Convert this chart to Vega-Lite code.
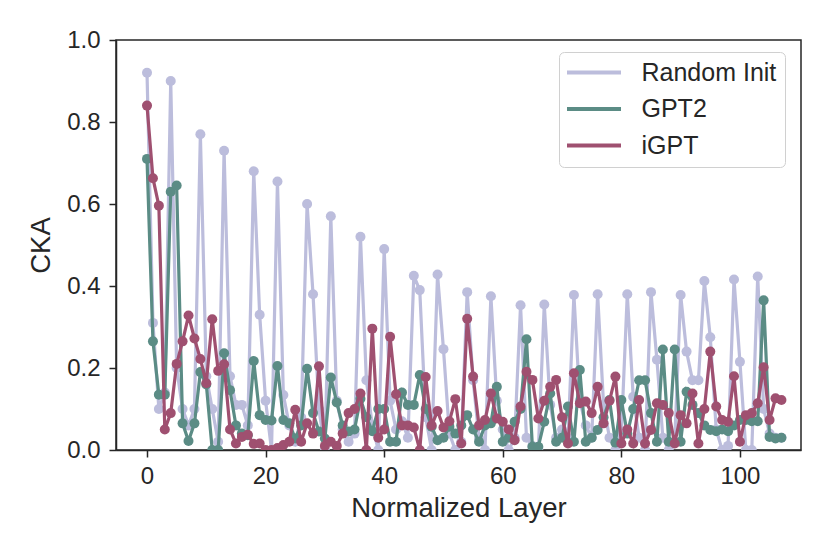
{
  "$schema": "https://vega.github.io/schema/vega-lite/v6.json",
  "width": 685,
  "height": 410,
  "autosize": "none",
  "padding": {"left": 116, "top": 40, "right": 29, "bottom": 104},
  "background": "white",
  "config": {
    "font": "Liberation Sans",
    "view": {"stroke": "#262626", "strokeWidth": 1.5},
    "axis": {
      "grid": false,
      "domainColor": "#262626", "domainWidth": 1.5,
      "tickColor": "#262626", "tickWidth": 1.5, "tickSize": 7,
      "labelFontSize": 24, "labelColor": "#262626",
      "titleFontSize": 27.5, "titleColor": "#262626", "titleFontWeight": "normal"
    }
  },
  "data": {
    "values": [
      {"layer": 0, "Random Init": 0.92, "GPT2": 0.71, "iGPT": 0.84},
      {"layer": 1, "Random Init": 0.31, "GPT2": 0.265, "iGPT": 0.663},
      {"layer": 2, "Random Init": 0.10, "GPT2": 0.135, "iGPT": 0.596},
      {"layer": 3, "Random Init": 0.14, "GPT2": 0.135, "iGPT": 0.05},
      {"layer": 4, "Random Init": 0.90, "GPT2": 0.63, "iGPT": 0.09},
      {"layer": 5, "Random Init": 0.20, "GPT2": 0.645, "iGPT": 0.21},
      {"layer": 6, "Random Init": 0.10, "GPT2": 0.065, "iGPT": 0.265},
      {"layer": 7, "Random Init": 0.06, "GPT2": 0.022, "iGPT": 0.328},
      {"layer": 8, "Random Init": 0.10, "GPT2": 0.065, "iGPT": 0.272},
      {"layer": 9, "Random Init": 0.77, "GPT2": 0.19, "iGPT": 0.222},
      {"layer": 10, "Random Init": 0.18, "GPT2": 0.16, "iGPT": 0.163},
      {"layer": 11, "Random Init": 0.10, "GPT2": 0.0, "iGPT": 0.319},
      {"layer": 12, "Random Init": 0.02, "GPT2": 0.0, "iGPT": 0.193},
      {"layer": 13, "Random Init": 0.73, "GPT2": 0.236, "iGPT": 0.209},
      {"layer": 14, "Random Init": 0.18, "GPT2": 0.146, "iGPT": 0.05},
      {"layer": 15, "Random Init": 0.11, "GPT2": 0.06, "iGPT": 0.016},
      {"layer": 16, "Random Init": 0.11, "GPT2": 0.04, "iGPT": 0.032},
      {"layer": 17, "Random Init": 0.06, "GPT2": 0.036, "iGPT": 0.037},
      {"layer": 18, "Random Init": 0.68, "GPT2": 0.217, "iGPT": 0.015},
      {"layer": 19, "Random Init": 0.33, "GPT2": 0.085, "iGPT": 0.016},
      {"layer": 20, "Random Init": 0.12, "GPT2": 0.073, "iGPT": 0.0},
      {"layer": 21, "Random Init": 0.0, "GPT2": 0.072, "iGPT": 0.0},
      {"layer": 22, "Random Init": 0.655, "GPT2": 0.205, "iGPT": 0.005},
      {"layer": 23, "Random Init": 0.134, "GPT2": 0.073, "iGPT": 0.012},
      {"layer": 24, "Random Init": 0.06, "GPT2": 0.065, "iGPT": 0.02},
      {"layer": 25, "Random Init": 0.02, "GPT2": 0.028, "iGPT": 0.098},
      {"layer": 26, "Random Init": 0.08, "GPT2": 0.06, "iGPT": 0.02},
      {"layer": 27, "Random Init": 0.60, "GPT2": 0.198, "iGPT": 0.065},
      {"layer": 28, "Random Init": 0.38, "GPT2": 0.09, "iGPT": 0.04},
      {"layer": 29, "Random Init": 0.10, "GPT2": 0.045, "iGPT": 0.204},
      {"layer": 30, "Random Init": 0.0, "GPT2": 0.028, "iGPT": 0.01},
      {"layer": 31, "Random Init": 0.57, "GPT2": 0.177, "iGPT": 0.02},
      {"layer": 32, "Random Init": 0.12, "GPT2": 0.116, "iGPT": 0.01},
      {"layer": 33, "Random Init": 0.05, "GPT2": 0.06, "iGPT": 0.04},
      {"layer": 34, "Random Init": 0.02, "GPT2": 0.045, "iGPT": 0.09},
      {"layer": 35, "Random Init": 0.04, "GPT2": 0.05, "iGPT": 0.1},
      {"layer": 36, "Random Init": 0.52, "GPT2": 0.125, "iGPT": 0.138},
      {"layer": 37, "Random Init": 0.17, "GPT2": 0.08, "iGPT": 0.0},
      {"layer": 38, "Random Init": 0.06, "GPT2": 0.046, "iGPT": 0.296},
      {"layer": 39, "Random Init": 0.0, "GPT2": 0.1, "iGPT": 0.03},
      {"layer": 40, "Random Init": 0.49, "GPT2": 0.1, "iGPT": 0.05},
      {"layer": 41, "Random Init": 0.12, "GPT2": 0.02, "iGPT": 0.276},
      {"layer": 42, "Random Init": 0.05, "GPT2": 0.02, "iGPT": 0.136},
      {"layer": 43, "Random Init": 0.07, "GPT2": 0.14, "iGPT": 0.06},
      {"layer": 44, "Random Init": 0.03, "GPT2": 0.11, "iGPT": 0.06},
      {"layer": 45, "Random Init": 0.425, "GPT2": 0.11, "iGPT": 0.055},
      {"layer": 46, "Random Init": 0.39, "GPT2": 0.183, "iGPT": 0.0},
      {"layer": 47, "Random Init": 0.08, "GPT2": 0.1, "iGPT": 0.178},
      {"layer": 48, "Random Init": 0.0, "GPT2": 0.057, "iGPT": 0.06},
      {"layer": 49, "Random Init": 0.428, "GPT2": 0.024, "iGPT": 0.095},
      {"layer": 50, "Random Init": 0.246, "GPT2": 0.03, "iGPT": 0.055},
      {"layer": 51, "Random Init": 0.04, "GPT2": 0.057, "iGPT": 0.07},
      {"layer": 52, "Random Init": 0.0, "GPT2": 0.04, "iGPT": 0.124},
      {"layer": 53, "Random Init": 0.02, "GPT2": 0.06, "iGPT": 0.016},
      {"layer": 54, "Random Init": 0.385, "GPT2": 0.085, "iGPT": 0.32},
      {"layer": 55, "Random Init": 0.17, "GPT2": 0.05, "iGPT": 0.179},
      {"layer": 56, "Random Init": 0.03, "GPT2": 0.02, "iGPT": 0.06},
      {"layer": 57, "Random Init": 0.0, "GPT2": 0.06, "iGPT": 0.073},
      {"layer": 58, "Random Init": 0.375, "GPT2": 0.065, "iGPT": 0.138},
      {"layer": 59, "Random Init": 0.12, "GPT2": 0.154, "iGPT": 0.077},
      {"layer": 60, "Random Init": 0.05, "GPT2": 0.02, "iGPT": 0.069},
      {"layer": 61, "Random Init": 0.0, "GPT2": 0.03, "iGPT": 0.05},
      {"layer": 62, "Random Init": 0.03, "GPT2": 0.069, "iGPT": 0.024},
      {"layer": 63, "Random Init": 0.353, "GPT2": 0.1, "iGPT": 0.106},
      {"layer": 64, "Random Init": 0.03, "GPT2": 0.27, "iGPT": 0.191},
      {"layer": 65, "Random Init": 0.01, "GPT2": 0.008, "iGPT": 0.171},
      {"layer": 66, "Random Init": 0.0, "GPT2": 0.008, "iGPT": 0.077},
      {"layer": 67, "Random Init": 0.355, "GPT2": 0.069, "iGPT": 0.12},
      {"layer": 68, "Random Init": 0.11, "GPT2": 0.138, "iGPT": 0.154},
      {"layer": 69, "Random Init": 0.03, "GPT2": 0.02, "iGPT": 0.171},
      {"layer": 70, "Random Init": 0.05, "GPT2": 0.03, "iGPT": 0.08},
      {"layer": 71, "Random Init": 0.03, "GPT2": 0.106, "iGPT": 0.016},
      {"layer": 72, "Random Init": 0.378, "GPT2": 0.02, "iGPT": 0.187},
      {"layer": 73, "Random Init": 0.12, "GPT2": 0.195, "iGPT": 0.114},
      {"layer": 74, "Random Init": 0.06, "GPT2": 0.02, "iGPT": 0.118},
      {"layer": 75, "Random Init": 0.03, "GPT2": 0.03, "iGPT": 0.09},
      {"layer": 76, "Random Init": 0.38, "GPT2": 0.049, "iGPT": 0.154},
      {"layer": 77, "Random Init": 0.11, "GPT2": 0.08, "iGPT": 0.065},
      {"layer": 78, "Random Init": 0.03, "GPT2": 0.122, "iGPT": 0.12},
      {"layer": 79, "Random Init": 0.0, "GPT2": 0.018, "iGPT": 0.179},
      {"layer": 80, "Random Init": 0.04, "GPT2": 0.122, "iGPT": 0.016},
      {"layer": 81, "Random Init": 0.38, "GPT2": 0.04, "iGPT": 0.05},
      {"layer": 82, "Random Init": 0.13, "GPT2": 0.1, "iGPT": 0.016},
      {"layer": 83, "Random Init": 0.03, "GPT2": 0.17, "iGPT": 0.122},
      {"layer": 84, "Random Init": 0.0, "GPT2": 0.17, "iGPT": 0.016},
      {"layer": 85, "Random Init": 0.385, "GPT2": 0.09, "iGPT": 0.049},
      {"layer": 86, "Random Init": 0.22, "GPT2": 0.02, "iGPT": 0.114},
      {"layer": 87, "Random Init": 0.03, "GPT2": 0.245, "iGPT": 0.11},
      {"layer": 88, "Random Init": 0.0, "GPT2": 0.02, "iGPT": 0.09},
      {"layer": 89, "Random Init": 0.02, "GPT2": 0.245, "iGPT": 0.016},
      {"layer": 90, "Random Init": 0.378, "GPT2": 0.02, "iGPT": 0.085},
      {"layer": 91, "Random Init": 0.24, "GPT2": 0.142, "iGPT": 0.065},
      {"layer": 92, "Random Init": 0.17, "GPT2": 0.11, "iGPT": 0.138},
      {"layer": 93, "Random Init": 0.17, "GPT2": 0.09, "iGPT": 0.016},
      {"layer": 94, "Random Init": 0.412, "GPT2": 0.06, "iGPT": 0.1},
      {"layer": 95, "Random Init": 0.275, "GPT2": 0.049, "iGPT": 0.24},
      {"layer": 96, "Random Init": 0.05, "GPT2": 0.046, "iGPT": 0.106},
      {"layer": 97, "Random Init": 0.0, "GPT2": 0.05, "iGPT": 0.073},
      {"layer": 98, "Random Init": 0.01, "GPT2": 0.046, "iGPT": 0.069},
      {"layer": 99, "Random Init": 0.416, "GPT2": 0.06, "iGPT": 0.18},
      {"layer": 100, "Random Init": 0.215, "GPT2": 0.073, "iGPT": 0.02},
      {"layer": 101, "Random Init": 0.0, "GPT2": 0.073, "iGPT": 0.085},
      {"layer": 102, "Random Init": 0.0, "GPT2": 0.07, "iGPT": 0.09},
      {"layer": 103, "Random Init": 0.423, "GPT2": 0.07, "iGPT": 0.114},
      {"layer": 104, "Random Init": 0.10, "GPT2": 0.365, "iGPT": 0.202},
      {"layer": 105, "Random Init": 0.04, "GPT2": 0.032, "iGPT": 0.073},
      {"layer": 106, "Random Init": 0.03, "GPT2": 0.028, "iGPT": 0.126},
      {"layer": 107, "Random Init": 0.03, "GPT2": 0.03, "iGPT": 0.122}
    ]
  },
  "transform": [{"fold": ["Random Init", "GPT2", "iGPT"], "as": ["model", "cka"]}],
  "encoding": {
    "x": {
      "field": "layer",
      "type": "quantitative",
      "scale": {"domain": [-5.23, 110.3], "nice": false, "zero": false},
      "axis": {"title": "Normalized Layer", "values": [0, 20, 40, 60, 80, 100], "labelPadding": 7, "titlePadding": 6}
    },
    "y": {
      "field": "cka",
      "type": "quantitative",
      "scale": {"domain": [0, 1], "nice": false},
      "axis": {"title": "CKA", "values": [0, 0.2, 0.4, 0.6, 0.8, 1.0], "format": ".1f", "labelPadding": 9, "titlePadding": 11}
    },
    "color": {
      "field": "model",
      "type": "nominal",
      "scale": {"domain": ["Random Init", "GPT2", "iGPT"], "range": ["#bcbddc", "#5b8c85", "#9f5070"]},
      "legend": {
        "title": null,
        "orient": "none",
        "legendX": 443,
        "legendY": 12,
        "symbolType": "M-6,0H6",
        "symbolSize": 81,
        "symbolOffset": 14.5,
        "symbolStrokeWidth": 4,
        "labelFontSize": 25,
        "labelColor": "#262626",
        "labelOffset": 35,
        "labelLimit": 300,
        "rowPadding": 10.5,
        "padding": 8,
        "fillColor": "white",
        "strokeColor": "#d0d0d0",
        "cornerRadius": 5
      }
    }
  },
  "layer": [
    {
      "transform": [{"filter": "datum.model === 'Random Init'"}],
      "mark": {"type": "line", "strokeWidth": 3.2, "clip": true, "point": {"filled": true, "size": 100, "opacity": 1}}
    },
    {
      "transform": [{"filter": "datum.model === 'GPT2'"}],
      "mark": {"type": "line", "strokeWidth": 3.2, "clip": true, "point": {"filled": true, "size": 100, "opacity": 1}}
    },
    {
      "transform": [{"filter": "datum.model === 'iGPT'"}],
      "mark": {"type": "line", "strokeWidth": 3.2, "clip": true, "point": {"filled": true, "size": 100, "opacity": 1}}
    }
  ]
}
